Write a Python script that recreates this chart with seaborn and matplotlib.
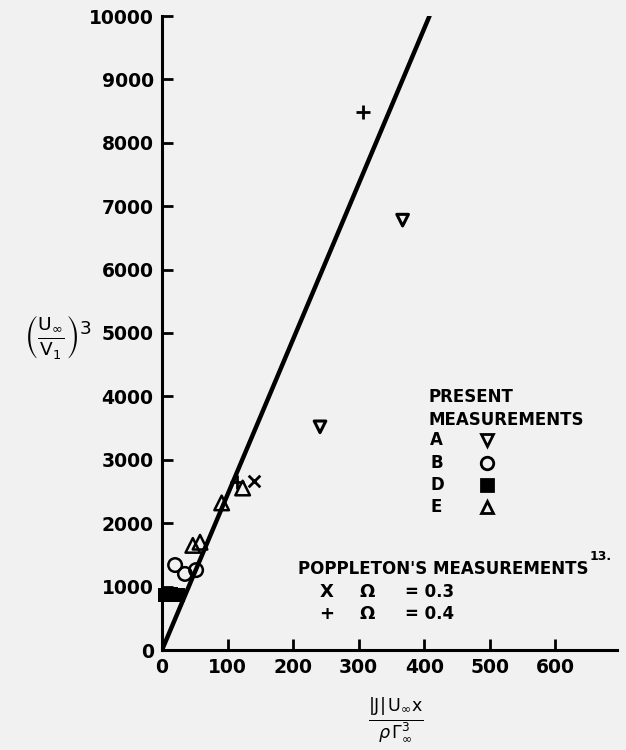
import numpy as np
import seaborn as sns
import matplotlib.pyplot as plt

a_x = [241, 367]
a_y = [3520, 6780]
b_x = [20, 35, 52]
b_y = [1340, 1200, 1260]
d_x = [4, 14, 25]
d_y = [870, 890, 860]
e_x = [47, 58, 91, 123]
e_y = [1650, 1700, 2320, 2555]

# Poppleton's measurements
pop03_x = [140]
pop03_y = [2665]
pop04_x = [115, 306]
pop04_y = [2650, 8490]

# fitted line
line_x = [0, 408]
line_y = [0, 10000]

x_ticks = [0, 100, 200, 300, 400, 500, 600]
y_ticks = [0, 1000, 2000, 3000, 4000, 5000, 6000, 7000, 8000, 9000, 10000]

sns.set_style('ticks')
plt.rcParams['font.family'] = ['DejaVu Sans']
plt.rcParams['mathtext.fontset'] = 'dejavusans'
plt.rcParams['text.color'] = 'black'
plt.rcParams['xtick.color'] = 'black'
plt.rcParams['ytick.color'] = 'black'
plt.rcParams['axes.edgecolor'] = 'black'

W, H = 626, 750
fig = plt.figure(figsize=(W / 100, H / 100), dpi=100)
fig.patch.set_facecolor('#f1f1f1')
ax = fig.add_axes([162 / W, 1 - 650 / H, (617 - 162) / W, (650 - 16) / H])
ax.set_facecolor('#f1f1f1')


def fx(px):
    return px / W


def fy(py):
    return 1 - py / H


sns.lineplot(x=line_x, y=line_y, ax=ax, color='black', linewidth=3.2)

hollow = dict(ax=ax, facecolor='none', edgecolor='black', legend=False, zorder=3, clip_on=False)
solid = dict(ax=ax, color='black', legend=False, zorder=3, clip_on=False)
sns.scatterplot(x=a_x, y=a_y, marker='v', s=70, linewidth=2.2, **hollow)
sns.scatterplot(x=b_x, y=b_y, marker='o', s=95, linewidth=1.8, **hollow)
sns.scatterplot(x=d_x, y=d_y, marker='s', s=110, linewidth=0, **solid)
sns.scatterplot(x=e_x, y=e_y, marker='^', s=110, linewidth=1.8, **hollow)
sns.scatterplot(x=pop03_x, y=pop03_y, marker='x', s=70, linewidth=2, **solid)
sns.scatterplot(x=pop04_x, y=pop04_y, marker='+', s=90, linewidth=2, **solid)

ax.set_xlim(0, 694)
ax.set_ylim(0, 10000)
ax.set_xticks(x_ticks)
ax.set_yticks(y_ticks)
ax.set_xticklabels([str(t) for t in x_ticks])
ax.set_yticklabels([str(t) for t in y_ticks])
sns.despine(ax=ax)
for side in ['left', 'bottom']:
    ax.spines[side].set_linewidth(2.2)
ax.tick_params(direction='in', length=8, width=2, labelsize=13.5, pad=6)
for lab in ax.get_xticklabels() + ax.get_yticklabels():
    lab.set_fontweight('bold')

# axis labels
fig.text(fx(58), fy(337), r'$\left(\frac{\mathrm{U}_\infty}{\mathrm{V}_1}\right)^3$', fontsize=19,
         ha='center', va='center')
fig.text(fx(396), fy(720), r'$\frac{|\mathrm{J}|\,\mathrm{U}_\infty \mathrm{x}}{\rho\,\Gamma_\infty^3}$',
         fontsize=18, ha='center', va='center')

# hand-drawn legend
txt = dict(fontsize=12, fontweight='bold', ha='left', va='center')
fig.text(fx(428), fy(397), 'PRESENT', **txt)
fig.text(fx(428), fy(420), 'MEASUREMENTS', **txt)
rows = [('A', 440, 'v', 'none'), ('B', 463, 'o', 'none'),
        ('D', 485, 's', 'black'), ('E', 507, '^', 'none')]
for lab, py, m, fc in rows:
    fig.text(fx(430), fy(py), lab, **txt)
    ax.plot([fx(487)], [fy(py)], marker=m, ms=9 if m != 's' else 8,
            mfc=fc, mec='black', mew=2, transform=fig.transFigure, clip_on=False)

fig.text(fx(298), fy(569), "POPPLETON'S MEASUREMENTS", **txt)
fig.text(fx(590), fy(557), '13.', fontsize=9, fontweight='bold', ha='left', va='center')
for py, sym, val in [(592, 'X', '= 0.3'), (614, '+', '= 0.4')]:
    fig.text(fx(327), fy(py), sym, fontsize=13, fontweight='bold', ha='center', va='center')
    fig.text(fx(367), fy(py), 'Ω', fontsize=13, fontweight='bold', ha='center', va='center')
    fig.text(fx(405), fy(py), val, **txt)

fig.savefig('out.png', dpi=100, facecolor=fig.get_facecolor())
